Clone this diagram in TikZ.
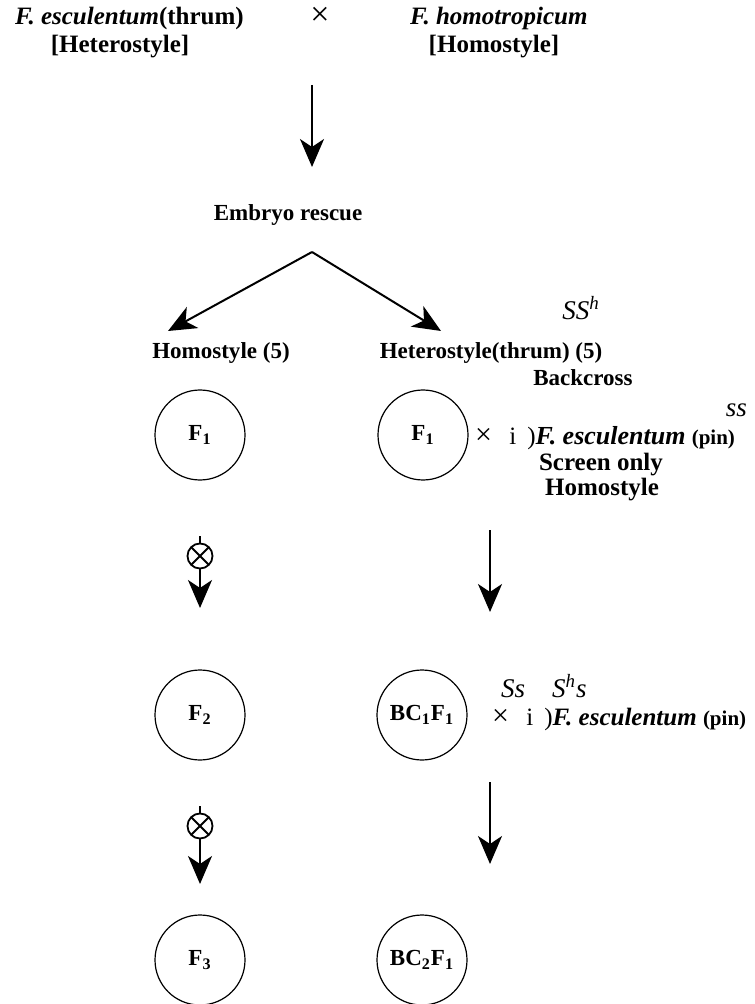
\documentclass[tikz,border=0pt]{standalone}
\usepackage{fontspec}
\setmainfont{Liberation Serif}
\usetikzlibrary{arrows.meta}

\begin{document}
\begin{tikzpicture}[x=0.5pt,y=-0.5pt,
  font=\fontsize{11.5}{13}\selectfont\bfseries,
  gen/.style={draw,circle,line width=0.6pt,minimum size=45pt,inner sep=0pt},
  arr/.style={-{Stealth[length=14pt,width=12pt,inset=4pt]},line width=1pt},
  selfx/.style={draw,circle,line width=0.9pt,minimum size=12.5pt,inner sep=0pt,
    path picture={\draw[line width=0.9pt]
      (path picture bounding box.north west) -- (path picture bounding box.south east)
      (path picture bounding box.north east) -- (path picture bounding box.south west);}},
  geno/.style={font=\fontsize{13.5}{15}\selectfont\itshape},
  big/.style={font=\fontsize{12.5}{14}\selectfont\bfseries}]
\useasboundingbox (0,0) rectangle (754,1004);
% parents
\node[big,anchor=west] (pa) at (8,18) {\textit{F. esculentum}(thrum)};
\node[font=\fontsize{17}{18}\selectfont] (crs) at (320,16) {×};
\node[big,anchor=west] (pb) at (403,18) {\textit{F. homotropicum}};
\node[big] (pa2) at (120,47) {[Heterostyle]};
\node[big] (pb2) at (494,47) {[Homostyle]};
\coordinate (t0) at (312,85);
\coordinate (t1) at (312,167);
\draw[arr] (t0) -- (t1);
\node (er) at (288,215) {Embryo rescue};
% split
\coordinate (ap) at (312,252);
\coordinate (lt) at (168,331);
\coordinate (rt) at (441,331);
\draw[arr] (ap) -- (lt);
\draw[arr] (ap) -- (rt);
\node[geno] (g1) at (581,308) {SS\textsuperscript{h}};
\node (ho) at (221,353) {Homostyle (5)};
\node (he) at (491,353) {Heterostyle(thrum) (5)};
\node (bk) at (583,378) {Backcross};
% F1 row
\node[gen] (f1a) at (200,435) {F\textsubscript{1}};
\node[gen] (f1b) at (423,435) {F\textsubscript{1}};
\node[geno,anchor=east] (g2) at (754,410) {ss};
\node[big,anchor=west] (bc1) at (468,438) {{\mdseries\fontsize{15}{16}\selectfont ×}\;\, {\mdseries i\;\,)}{\fontsize{13}{14}\selectfont\textit{F. esculentum}} {\fontsize{10.5}{11}\selectfont(pin)}};
\node[big] (sc) at (601,465) {Screen only};
\node[big] (sh) at (602,490) {Homostyle};
% selfing 1
\node[selfx] (s1) at (200,556) {};
\coordinate (s1t) at (200,536);
\coordinate (s1b) at (200,608);
\draw[line width=1pt] (s1t) -- (s1);
\draw[arr] (s1) -- (s1b);
\coordinate (r1t) at (490,530);
\coordinate (r1b) at (490,612);
\draw[arr] (r1t) -- (r1b);
% F2 row
\node[gen] (f2) at (200,715) {F\textsubscript{2}};
\node[gen] (bcf1) at (422,715) {BC\textsubscript{1}F\textsubscript{1}};
\node[geno,anchor=west] (g3) at (494,686) {Ss\quad S\textsuperscript{h}s};
\node[big,anchor=west] (bc2) at (485,719) {{\mdseries\fontsize{15}{16}\selectfont ×}\;\, {\mdseries i\;\,)}{\fontsize{12.5}{14}\selectfont\textit{F. esculentum}} {\fontsize{10.5}{11}\selectfont(pin)}};
% selfing 2
\node[selfx] (s2) at (200,826) {};
\coordinate (s2t) at (200,806);
\coordinate (s2b) at (200,884);
\draw[line width=1pt] (s2t) -- (s2);
\draw[arr] (s2) -- (s2b);
\coordinate (r2t) at (490,782);
\coordinate (r2b) at (490,864);
\draw[arr] (r2t) -- (r2b);
% F3 row
\node[gen] (f3) at (200,960) {F\textsubscript{3}};
\node[gen] (bcf2) at (422,960) {BC\textsubscript{2}F\textsubscript{1}};
\end{tikzpicture}
\end{document}
